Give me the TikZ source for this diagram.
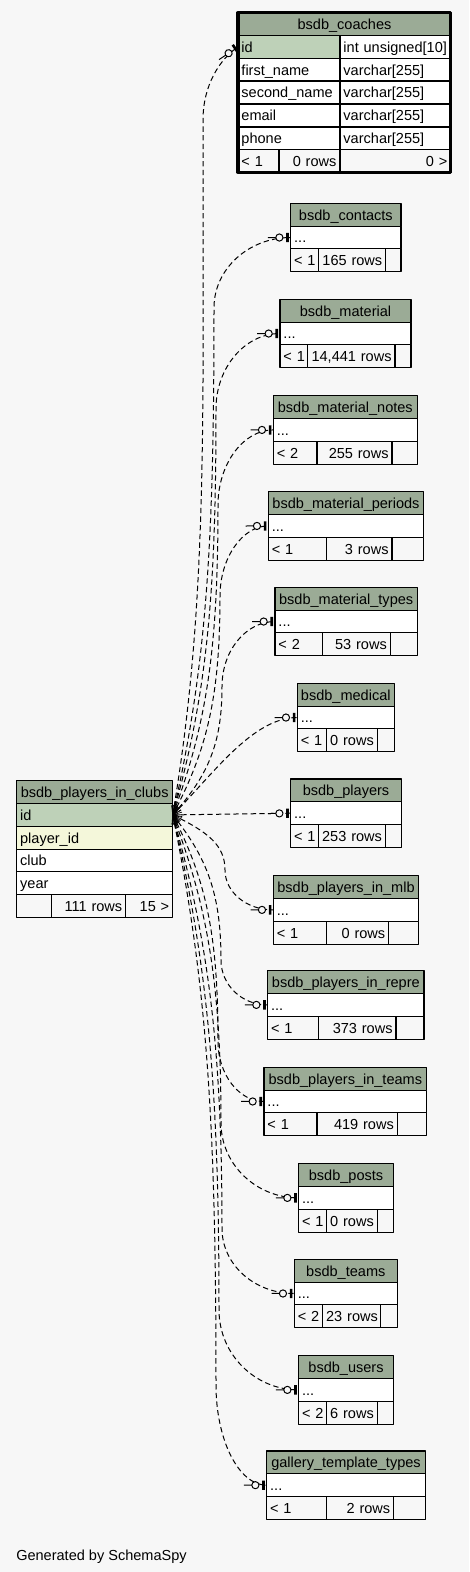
\documentclass[tikz,border=0pt]{standalone}
\usepackage{fontspec}
\setmainfont{Liberation Sans}
\usetikzlibrary{decorations.markings}
\definecolor{bg}{HTML}{F7F7F7}
\definecolor{hdr}{HTML}{9BAB96}
\definecolor{pk}{HTML}{BED1B8}
\definecolor{fkc}{HTML}{F4F7DA}
\tikzset{
  cell/.style={draw, line width=0.8pt, inner xsep=2.6pt, inner ysep=0pt, outer sep=0pt,
    anchor=north west, minimum height=17.1pt, text height=8pt, text depth=0pt},
  rel/.style={dash pattern=on 4pt off 2.5pt, line width=0.75pt,
    postaction={decorate, decoration={markings,
      mark=at position 0 with {\draw[solid, line width=0.5pt] (7pt,2pt)--(0,0)--(7pt,-2pt) (0,0)--(7pt,0);},
      mark=at position -0.1pt with {\draw[solid] (-17pt,0)--(-10.8pt,0);
        \draw[solid,fill=bg] (-8.4pt,0) circle (2.7pt);
        \fill (-3.3pt,-3.5pt) rectangle (-1.3pt,3.5pt);}}}}
}
% small table: name, x, y, width, title, divider 1, divider 2, left text, rows
\newcommand\reftable[9]{%
  \pgfmathsetmacro\wall{#4*0.75-5.2}%
  \pgfmathsetmacro\wone{(#6-#2)*0.75-5.2}%
  \pgfmathsetmacro\wtwo{(#7-#6)*0.75-5.2}%
  \pgfmathsetmacro\wthree{(#2+#4-#7)*0.75-5.2}%
  \node[cell, fill=hdr, minimum width=#4*0.75pt] (#1-head) at (#2,#3) {#5};
  \node[cell, fill=white, text width=\wall pt, align=left] (#1) at (#1-head.south west) {...};
  \node[cell, fill=bg, text width=\wone pt, align=left] (#1-a) at (#1.south west) {\mbox{#8}};
  \node[cell, fill=bg, text width=\wtwo pt, align=right] (#1-b) at (#1-a.north east) {\mbox{#9}};
  \node[cell, fill=bg, text width=\wthree pt] (#1-c) at (#1-b.north east) {};
}
\begin{document}
\begin{tikzpicture}[x=0.75pt, y=-0.75pt, font=\fontsize{10.9}{13}\selectfont, line join=round]
\def\rowh{22.8}
\fill[bg] (0,0) rectangle (469,1572);
\useasboundingbox (0,0) rectangle (469,1572);

% bsdb_coaches
\node[cell, line width=1.2pt, fill=hdr, minimum width=159.75pt] (coaches-head) at (238,12.7) {bsdb\_coaches};
\foreach \n/\a/\b/\f [count=\i] in {id/id/{int unsigned[10]}/pk, first/first\_name/{varchar[255]}/white,
    second/second\_name/{varchar[255]}/white, email/email/{varchar[255]}/white, phone/phone/{varchar[255]}/white}{
  \node[cell, line width=1.2pt, fill=\f, text width=71.3pt, align=left] (coaches-\n) at (238,{12.7+\rowh*\i}) {\mbox{\a}};
  \node[cell, line width=1.2pt, fill=white, text width=78pt, align=left] (coaches-\n-type) at (coaches-\n.north east) {\mbox{\b}};
}
\node[cell, line width=1.2pt, fill=bg, text width=25.5pt, align=left] (coaches-fa) at (coaches-phone.south west) {\mbox{< 1}};
\node[cell, line width=1.2pt, fill=bg, text width=40.5pt, align=right] (coaches-fb) at (coaches-fa.north east) {\mbox{0 rows}};
\node[cell, line width=1.2pt, fill=bg, text width=78pt, align=right] (coaches-fc) at (coaches-fb.north east) {\mbox{0 >}};
\draw[line width=2.3pt] (coaches-head.north west) rectangle (coaches-fc.south east);

% referencing tables
\reftable{contacts}{290.7}{203.3}{110.3}{bsdb\_contacts}{318.3}{385.7}{< 1}{165 rows}
\reftable{material}{280}{299.3}{131}{bsdb\_material}{307.3}{395}{< 1}{14,441 rows}
\reftable{notes}{273.3}{395.7}{144}{bsdb\_material\_notes}{317}{392}{< 2}{255 rows}
\reftable{periods}{268.3}{491.7}{155.4}{bsdb\_material\_periods}{326.7}{392}{< 1}{3 rows}
\reftable{types}{275}{587.3}{142.3}{bsdb\_material\_types}{322.7}{390.3}{< 2}{53 rows}
\reftable{medical}{297.3}{683.3}{97}{bsdb\_medical}{326.7}{377.3}{< 1}{0 rows}
\reftable{players}{290.7}{779}{110.6}{bsdb\_players}{318.7}{385.3}{< 1}{253 rows}
\reftable{mlb}{273.3}{875.7}{145.4}{bsdb\_players\_in\_mlb}{326.7}{388.7}{< 1}{0 rows}
\reftable{repre}{267.7}{970.7}{156.3}{bsdb\_players\_in\_repre}{318.3}{396}{< 1}{373 rows}
\reftable{pteams}{264}{1067.3}{162.7}{bsdb\_players\_in\_teams}{317}{397.3}{< 1}{419 rows}
\reftable{posts}{298.7}{1163.7}{94.6}{bsdb\_posts}{326.7}{377.3}{< 1}{0 rows}
\reftable{teams}{294.3}{1259.3}{103}{bsdb\_teams}{322.7}{380.7}{< 2}{23 rows}
\reftable{users}{298.7}{1355.7}{94.6}{bsdb\_users}{326.7}{377.3}{< 2}{6 rows}
\reftable{gallery}{266.7}{1451}{158.6}{gallery\_template\_types}{326.7}{393.7}{< 1}{2 rows}

% bsdb_players_in_clubs
\node[cell, fill=hdr, minimum width=117pt] (clubs) at (16.7,780.7) {bsdb\_players\_in\_clubs};
\node[cell, fill=pk, text width=111.8pt, align=left] (clubs-id) at (clubs.south west) {id};
\node[cell, fill=fkc, text width=111.8pt, align=left] (clubs-player) at (clubs-id.south west) {player\_id};
\node[cell, fill=white, text width=111.8pt, align=left] (clubs-club) at (clubs-player.south west) {club};
\node[cell, fill=white, text width=111.8pt, align=left] (clubs-year) at (clubs-club.south west) {year};
\node[cell, fill=bg, text width=21.05pt] (clubs-fa) at (clubs-year.south west) {};
\node[cell, fill=bg, text width=50.3pt, align=right] (clubs-fb) at (clubs-fa.north east) {\mbox{111 rows}};
\node[cell, fill=bg, text width=30.05pt, align=right] (clubs-fc) at (clubs-fb.north east) {\mbox{15 >}};

% relationships
\draw[rel] (clubs-id.east) .. controls +(35,-208) and +(0,313) .. (203,120)
  .. controls +(0,-35) and +(-18,12) .. (coaches-id.west);
\foreach \t/\xb/\ym/\ca/\cb/\cc/\h in {contacts/214/307.5/-152/228/-38.5/42,
    material/216/408.5/-122/183/-41/35, notes/218/505/-93/140/-41/30,
    periods/220/596/-66/99/-38/26, types/222/686.5/-39/58/-36/29,
    mlb/225/870/17/-25/22/27, repre/221/960/43.5/-65/25/26,
    pteams/218/1041.5/68/-102/33/25, posts/221/1123/92/-139/41/43,
    teams/222/1228.5/124/-186/36/40, users/219/1310/148/-223/44/44,
    gallery/216/1385/171/-256/55/28}
  \draw[rel] (clubs-id.east) .. controls +(35,\ca) and +(0,\cb) .. (\xb,\ym)
    .. controls +(0,\cc) and +(-\h,0) .. (\t.west);
\draw[rel] (clubs-id.east) .. controls +(40,-40) and +(-45,0) .. (medical.west);
\draw[rel] (clubs-id.east) -- (players.west);

\node[anchor=base west, inner sep=0pt] (credit) at (16,1560) {Generated by SchemaSpy};
\end{tikzpicture}
\end{document}
